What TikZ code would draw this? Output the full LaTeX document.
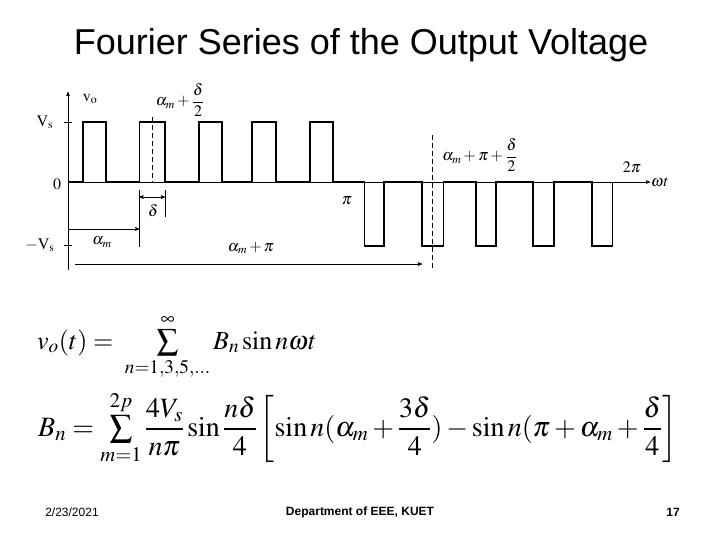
\documentclass[tikz,border=0pt]{standalone}
\usepackage{amsmath}
\usepackage{graphicx}
\usepackage{mathptmx}
\usepackage[no-math]{fontspec}
\setmainfont{Liberation Serif}
\newfontfamily\slidefont{Liberation Sans}
\usepackage{tikz}
\usetikzlibrary{arrows}
\usetikzlibrary{positioning}
\newcommand{\scaledsum}[1]{\mathop{\vcenter{\hbox{\scalebox{#1}{$\displaystyle\sum$}}}}\limits}

\begin{document}
\begin{tikzpicture}[x=1pt,y=-1pt,>=stealth',
		wave/.style={line width=1.6pt,line join=miter},
		axis/.style={line width=0.6pt},
		lbl/.style={inner sep=1pt,font=\fontsize{16}{18}\selectfont},
		dim/.style={line width=0.6pt}]
		\useasboundingbox (0,0) rectangle (720,540);
		% title
		\node (title) at (361,45) {\slidefont\fontsize{36}{40}\selectfont Fourier Series of the Output Voltage};
		
		% axes
		\coordinate (o) at (68,182);
		\coordinate (ytop) at (68,92);
		\coordinate (ybot) at (68,270);
		\coordinate (xend) at (650,182);
		\draw[axis,->] (ybot) -- (ytop);
		\draw[axis,->] (o) -- (xend);
		\draw[axis] (64,122) -- (72,122);
		\draw[axis] (64,245) -- (72,245);
		
		% waveform
		\draw[wave] (o)
		\foreach \a/\b in {82.7/106,139.3/165,199/221.7,251.7/276,310/333}
			{-- (\a,182) -- (\a,122) -- (\b,122) -- (\b,182)}
		\foreach \a/\b in {364.3/384,421.7/443.3,475.7/496,532.7/554,591.7/612.3}
			{-- (\a,182) -- (\a,246) -- (\b,246) -- (\b,182)};
		
		% dashed centre lines
		\draw[dim,dashed,dash pattern=on 5pt off 3pt] (152.7,117) -- (152.7,182);
		\draw[dim,dashed,dash pattern=on 5pt off 3pt] (432,135) -- (432,268);
		
		% delta and alpha markers
		\coordinate (dl) at (139.3,197);
		\coordinate (dr) at (165,197);
		\draw[dim] (139.3,190) -- (139.3,247);
		\draw[dim] (165,190) -- (165,217);
		\draw[dim,<->] (dl) -- (dr);
		\coordinate (am0) at (68,229);
		\coordinate (am1) at (139.3,229);
		\draw[dim,->] (am0) -- (am1);
		\coordinate (ap0) at (75,264);
		\coordinate (ap1) at (422,264);
		\draw[dim,->] (ap0) -- (ap1);
		
		% labels
		\node[lbl] (vo)    at (90,99)   {$\mathrm{v_o}$};
		\node[lbl] (vs)    at (45,122)  {$\mathrm{V_s}$};
		\node[lbl] (zero)  at (57,184)  {$0$};
		\node[lbl] (mvs)   at (40,245)  {$-\mathrm{V_s}$};
		\node[lbl] (dlt)   at (153,211) {$\delta$};
		\node[lbl] (alm)   at (102,242) {$\alpha_m$};
		\node[lbl] (alpi)  at (251,248) {$\alpha_m+\pi$};
		\node[lbl] (pi1)   at (347,201) {$\pi$};
		\node[lbl] (pi2)   at (632,167) {$2\pi$};
		\node[lbl,anchor=west] (wt) at (xend) {$\omega t$};
		\node[lbl] (c1)    at (180,100) {$\displaystyle\alpha_m+\frac{\delta}{2}$};
		\node[lbl] (c2)    at (480,155) {$\displaystyle\alpha_m+\pi+\frac{\delta}{2}$};
		
		% equations
		\node[anchor=base west,inner sep=0pt] (eqv) at (37,349)
			{\fontsize{26}{30}\selectfont $\displaystyle v_o(t)=\;\scaledsum{0.82}_{n=1,3,5,\ldots}^{\infty} B_n\sin n\omega t$};
		\node[anchor=base west,inner sep=0pt] (eqb) at (38,436)
			{\fontsize{28}{32}\selectfont $\displaystyle B_n=\scaledsum{0.8}_{m=1}^{2p}\frac{4V_s}{n\pi}\sin\frac{n\delta}{4}\left[\sin n(\alpha_m+\frac{3\delta}{4})-\sin n(\pi+\alpha_m+\frac{\delta}{4}\right]$};
		
		% footer
		\node (date) at (72,512) {\slidefont\fontsize{12}{14}\selectfont 2/23/2021};
		\node (dept) at (360,512) {\slidefont\bfseries\fontsize{12}{14}\selectfont Department of EEE, KUET};
		\node (page) at (673,512) {\slidefont\bfseries\fontsize{12}{14}\selectfont 17};
\end{tikzpicture}
\end{document}
